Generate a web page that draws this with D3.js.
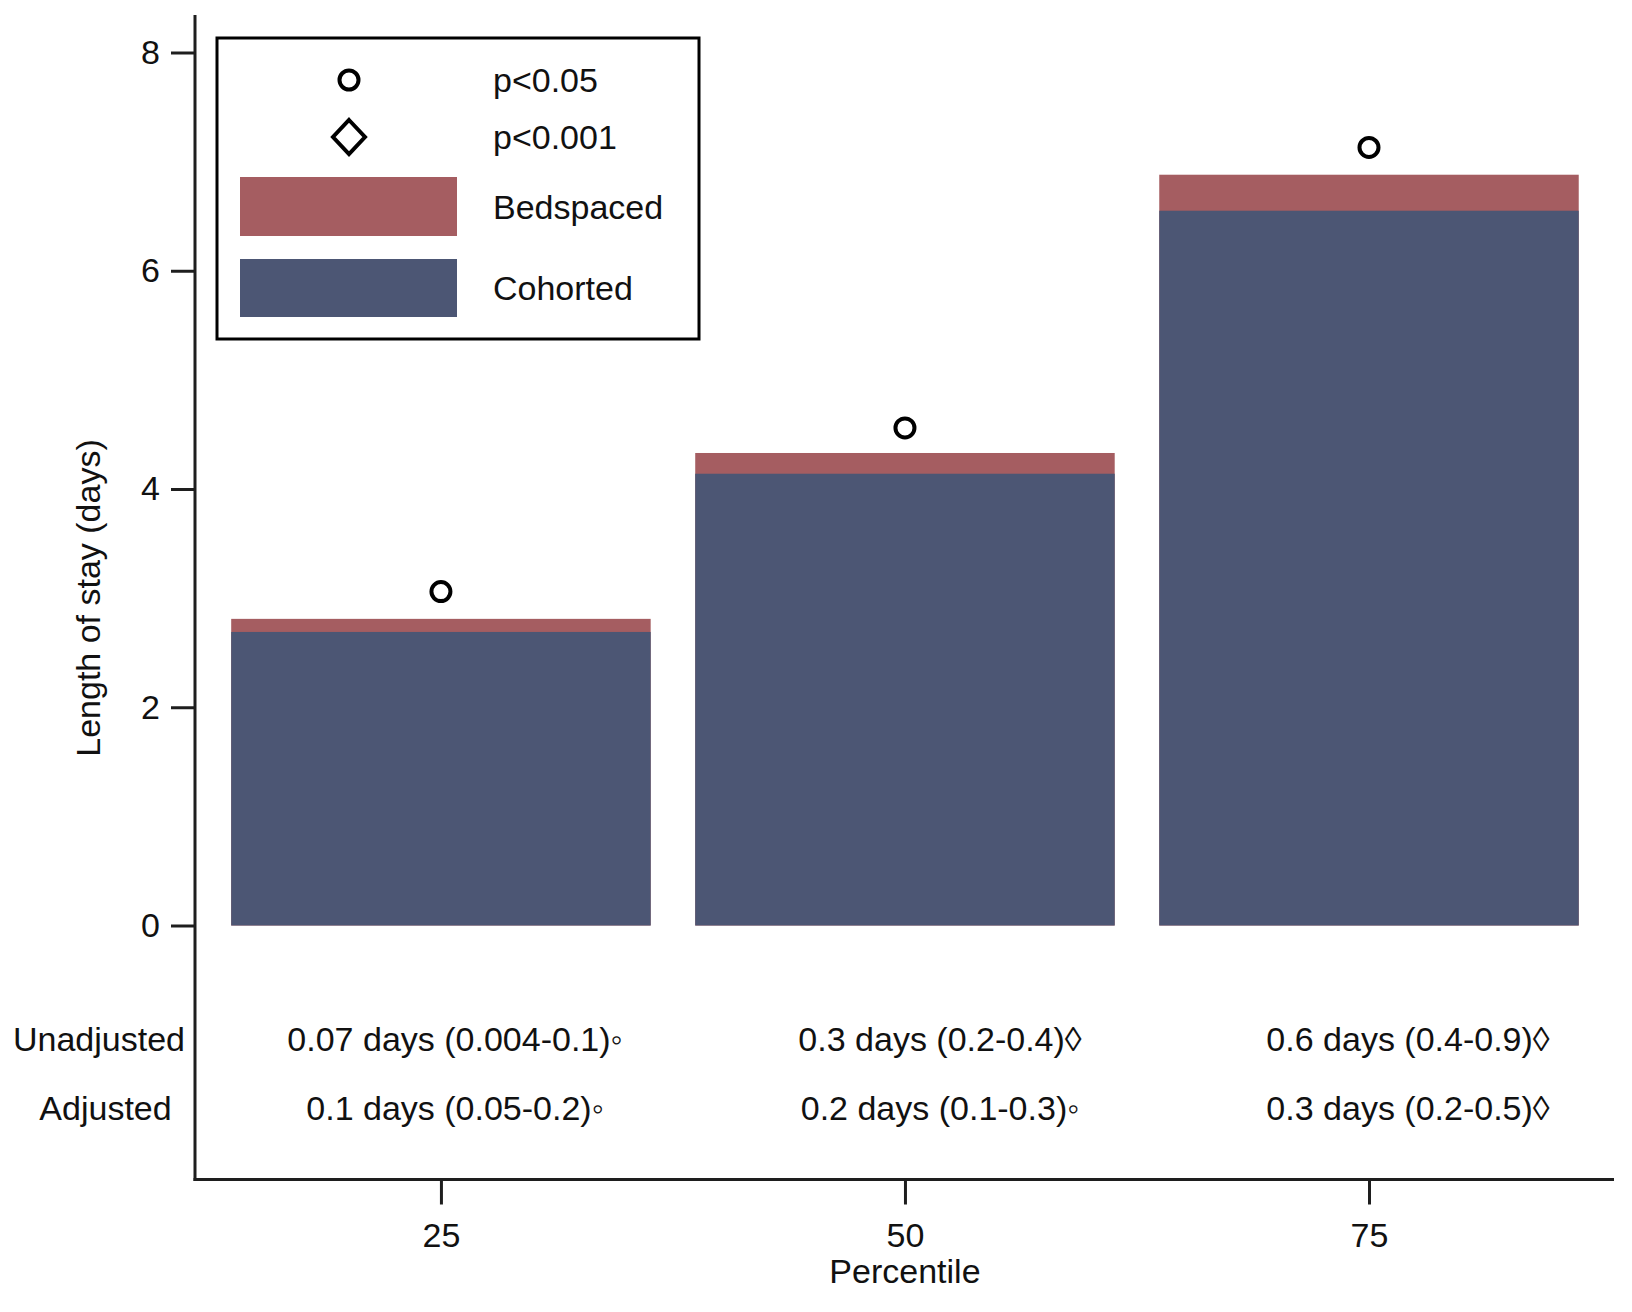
<!DOCTYPE html>
<html>
<head>
<meta charset="utf-8">
<script src="https://cdn.jsdelivr.net/npm/d3@7"></script>
<style>
  html, body { margin: 0; padding: 0; background: #fff; }
  svg { display: block; font-family: "Liberation Sans", Arial, sans-serif; }
</style>
</head>
<body>
<svg id="chart" width="1632" height="1312"></svg>
<script>
// ---- data ----
const percentiles = [25, 50, 75];
const bedspaced = [2.81, 4.33, 6.88];   // total bar height (red)
const cohorted  = [2.69, 4.14, 6.55];   // blue part
const markerVals = [3.06, 4.56, 7.13];  // significance markers (p<0.05 circles)
const markerTypes = ["circle", "circle", "circle"];
const unadjustedLabels = ["0.07 days (0.004-0.1)\u25E6", "0.3 days (0.2-0.4)\u25CA", "0.6 days (0.4-0.9)\u25CA"];
const adjustedLabels   = ["0.1 days (0.05-0.2)\u25E6", "0.2 days (0.1-0.3)\u25E6", "0.3 days (0.2-0.5)\u25CA"];
const yTicks = [0, 2, 4, 6, 8];
const xTicks = [25, 50, 75];
const legendItems = ["p<0.05", "p<0.001", "Bedspaced", "Cohorted"];

// ---- layout ----
const svg = d3.select("#chart");
const FS = 34;
const RED = "#a55d61", BLUE = "#4c5674", AX = "#1e1e1e";
const axisLeft = 195, axisRight = 1614, axisBottom = 1179.5, axisTop = 15;
const x = d3.scaleLinear().domain([11.75, 88.2]).range([axisLeft, axisRight]);
const y = d3.scaleLinear().domain([0, 8]).range([925.5, 52.5]);
const barW = x(25 + 22.6) - x(25);

// bars
const g = svg.append("g");
percentiles.forEach((p, i) => {
  g.append("rect").attr("x", x(p) - barW / 2).attr("width", barW)
    .attr("y", y(bedspaced[i])).attr("height", y(0) - y(bedspaced[i]))
    .attr("fill", RED);
  g.append("rect").attr("x", x(p) - barW / 2).attr("width", barW)
    .attr("y", y(cohorted[i])).attr("height", y(0) - y(cohorted[i]))
    .attr("fill", BLUE);
});

// markers
percentiles.forEach((p, i) => {
  if (markerTypes[i] === "circle") {
    g.append("circle").attr("cx", x(p)).attr("cy", y(markerVals[i])).attr("r", 9.5)
      .attr("fill", "none").attr("stroke", "#000").attr("stroke-width", 4);
  } else {
    g.append("path").attr("d", d3.symbol(d3.symbolDiamond2, 600)())
      .attr("transform", `translate(${x(p)},${y(markerVals[i])}) rotate(45)`)
      .attr("fill", "none").attr("stroke", "#000").attr("stroke-width", 4);
  }
});

// y axis
const yAxis = d3.axisLeft(y).tickValues(yTicks).tickFormat(d3.format("d"))
  .tickSize(24).tickPadding(11);
const yg = svg.append("g").attr("transform", `translate(${axisLeft},0)`).call(yAxis);
yg.select(".domain").remove();
yg.selectAll(".tick line").attr("stroke", AX).attr("stroke-width", 3);
yg.selectAll(".tick text").attr("font-size", FS).attr("fill", "#111")
  .attr("font-family", "Liberation Sans, Arial, sans-serif");
svg.append("line").attr("x1", axisLeft).attr("x2", axisLeft)
  .attr("y1", axisTop).attr("y2", axisBottom + 1.5)
  .attr("stroke", AX).attr("stroke-width", 3);

// x axis
const xAxis = d3.axisBottom(x).tickValues(xTicks).tickFormat(d3.format("d"))
  .tickSize(25).tickPadding(18);
const xg = svg.append("g").attr("transform", `translate(0,${axisBottom})`).call(xAxis);
xg.select(".domain").remove();
xg.selectAll(".tick line").attr("stroke", AX).attr("stroke-width", 3);
xg.selectAll(".tick text").attr("font-size", FS).attr("fill", "#111")
  .attr("font-family", "Liberation Sans, Arial, sans-serif");
svg.append("line").attr("x1", axisLeft - 1.5).attr("x2", axisRight)
  .attr("y1", axisBottom).attr("y2", axisBottom)
  .attr("stroke", AX).attr("stroke-width", 3);

// axis titles
svg.append("text").attr("x", x(50)).attr("y", 1283).attr("text-anchor", "middle")
  .attr("font-size", FS).attr("fill", "#111").text("Percentile");
svg.append("text").attr("transform", "translate(100,598) rotate(-90)")
  .attr("text-anchor", "middle").attr("font-size", FS).attr("fill", "#111")
  .text("Length of stay (days)");

// annotation rows
const rowBase = [1051, 1120];
const colCenter = [455, 940, 1408];
svg.append("text").attr("x", 99).attr("y", rowBase[0]).attr("text-anchor", "middle")
  .attr("font-size", FS).attr("fill", "#111").text("Unadjusted");
svg.append("text").attr("x", 105.5).attr("y", rowBase[1]).attr("text-anchor", "middle")
  .attr("font-size", FS).attr("fill", "#111").text("Adjusted");
[unadjustedLabels, adjustedLabels].forEach((labels, r) => {
  labels.forEach((t, i) => {
    svg.append("text").attr("x", colCenter[i]).attr("y", rowBase[r])
      .attr("text-anchor", "middle").attr("font-size", FS).attr("fill", "#111").text(t);
  });
});

// legend
const lg = svg.append("g");
lg.append("rect").attr("x", 217).attr("y", 38).attr("width", 482).attr("height", 301)
  .attr("fill", "#fff").attr("stroke", "#000").attr("stroke-width", 3);
lg.append("circle").attr("cx", 349).attr("cy", 80).attr("r", 9.5)
  .attr("fill", "none").attr("stroke", "#000").attr("stroke-width", 4);
lg.append("path").attr("d", "M349,120 L365,137 L349,154 L333,137 Z")
  .attr("fill", "none").attr("stroke", "#000").attr("stroke-width", 4);
lg.append("rect").attr("x", 240).attr("y", 177).attr("width", 217).attr("height", 59).attr("fill", RED);
lg.append("rect").attr("x", 240).attr("y", 259).attr("width", 217).attr("height", 58).attr("fill", BLUE);
const legBase = [92, 149, 219, 300];
legendItems.forEach((t, i) => {
  lg.append("text").attr("x", 493).attr("y", legBase[i]).attr("font-size", FS)
    .attr("fill", "#111").text(t);
});
</script>
</body>
</html>
